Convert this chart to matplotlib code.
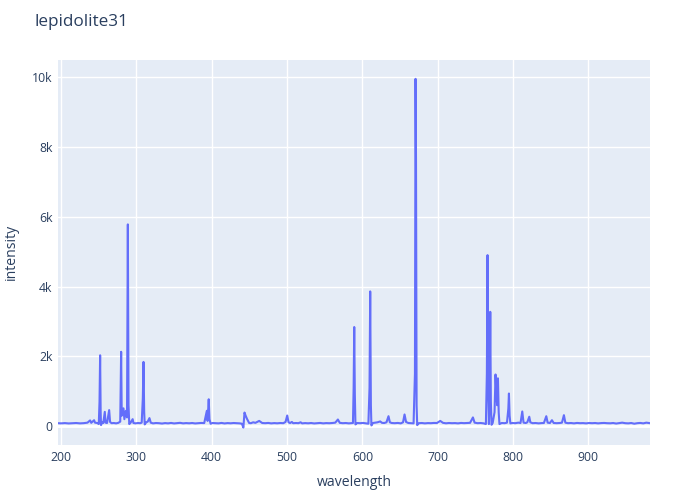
##    lepidolite31 spectrum: intensity vs wavelength (plotly-like look)

import matplotlib
matplotlib.use('Agg')
import matplotlib.pyplot as plt
from matplotlib.ticker import FuncFormatter, MultipleLocator

plt.rcParams['font.family'] = ['Open Sans', 'DejaVu Sans']

##    wavelength (nm) and intensity
wavelength = [
    196, 200, 205, 210, 215, 220, 225, 230, 235, 238.5, 240, 243.8, 245, 248,
    250, 251, 251.8, 252.5, 253, 254.5, 256, 258, 259, 261, 263.8, 265, 267,
    270, 273, 276, 278.5, 279.7, 280.5, 282.8, 284, 286, 287.5, 288.6, 289.5,
    290.5, 292, 295, 296, 299, 302, 305, 307, 308.5, 309.4, 310.3, 311, 313,
    315, 317.3, 319, 322, 326, 330, 334, 338, 342, 346, 350, 354, 358, 362,
    366, 370, 374, 378, 382, 386, 390, 393.5, 394.5, 396, 397, 398.5, 401,
    405, 409, 413, 417, 421, 425, 429, 433, 437, 440, 442, 443.5, 445, 447,
    449.7, 452, 455, 458, 461, 463, 465, 467, 471, 475, 479, 483, 487, 491,
    495, 498, 500.2, 502, 504, 506.4, 508, 512, 515, 518, 520, 524, 528, 532,
    536, 540, 544, 548, 552, 556, 560, 564, 567.5, 570, 574, 578, 582, 585,
    587.5, 588.4, 589.2, 590, 590.8, 593, 597, 601, 605, 608, 609.5, 610.4,
    611.3, 612, 614, 617, 620, 623.7, 626, 629, 632, 634.7, 636.5, 639, 643,
    647, 651, 654, 656, 658, 661, 664, 668, 669.8, 670.6, 671.2, 672, 672.8,
    675, 679, 683, 687, 691, 695, 699, 703.4, 707, 711, 715, 719, 723, 727,
    731, 735, 739, 743, 746.8, 749, 753, 757, 761, 764, 765.3, 766.2, 767,
    768, 769, 769.8, 770.6, 771.5, 773, 775.5, 776.8, 778, 779, 780, 781,
    782, 785, 789, 792, 793.8, 794.6, 795.5, 796.5, 799, 803, 807, 810,
    812.3, 814, 817, 819, 821.6, 823, 826, 830, 834, 838, 841, 844.2, 846,
    849, 851.7, 854, 858, 862, 865, 867.6, 869.5, 873, 877, 881, 885, 889,
    893, 897, 901, 905, 909, 913, 917, 921, 925, 929, 933, 937, 941, 945,
    949, 953, 957, 961, 965, 969, 973, 977, 980, 982]
intensity = [
    85, 80, 88, 78, 84, 90, 80, 86, 100, 165, 95, 170, 100, 90,
    60, 700, 2030, 400, 30, 120, 90, 410, 100, 90, 460, 120, 85,
    90, 80, 95, 130, 2130, 300, 510, 200, 440, 250, 5780, 600,
    60, 90, 200, 90, 80, 90, 85, 100, 800, 1840, 400, 50, 110,
    130, 230, 100, 80, 90, 85, 75, 88, 80, 92, 78, 85, 95, 80,
    88, 82, 90, 78, 86, 92, 88, 440, 150, 770, 200, 70, 90,
    85, 80, 92, 78, 88, 82, 90, 85, 80, 70, -40, 390, 300, 200,
    90, 85, 110, 95, 130, 150, 120, 90, 85, 92, 80, 88, 82, 90,
    85, 120, 305, 110, 90, 120, 85, 90, 85, 110, 80, 88, 82, 90,
    78, 86, 92, 80, 88, 84, 90, 100, 190, 95, 85, 90, 80, 85,
    90, 1100, 2840, 900, 50, 90, 85, 92, 80, 70, 1100, 3860,
    600, 20, 90, 100, 110, 135, 95, 90, 110, 285, 110, 90, 85,
    92, 80, 110, 335, 120, 90, 85, 80, 1500, 9950, 7700, 600, 30,
    85, 90, 80, 88, 85, 92, 90, 150, 95, 82, 90, 85, 88, 80,
    92, 86, 90, 95, 250, 100, 85, 90, 80, 60, 1500, 4900, 1200,
    60, 900, 3275, 700, 40, 90, 400, 1480, 900, 600, 1370, 400,
    60, 90, 85, 100, 500, 935, 300, 80, 90, 85, 100, 90,
    420, 100, 90, 110, 270, 110, 85, 90, 80, 88, 90, 285, 100,
    90, 170, 90, 85, 90, 100, 315, 100, 85, 90, 80, 92, 85,
    88, 80, 90, 85, 90, 80, 88, 92, 85, 82, 90, 75, 88, 100,
    85, 80, 90, 70, 85, 92, 80, 100, 90, 85]

xTicks = [200, 300, 400, 500, 600, 700, 800, 900]

#==============================================================================
fig = plt.figure(figsize=(7, 5), dpi=100)
ax = fig.add_axes([0.083, 0.11, 0.846, 0.77])
ax.set_facecolor('#e5ecf6')
ax.plot(wavelength, intensity, color='#636efa', lw=1.5, zorder=3)

ax.set_xlim(196, 982.3)
ax.set_ylim(-540, 10490)
ax.set_xticks(xTicks)
ax.yaxis.set_major_locator(MultipleLocator(2000))
ax.yaxis.set_major_formatter(FuncFormatter(lambda v, p: '0' if v == 0 else '%dk' % (v / 1000)))
ax.grid(True, color='white', lw=1, zorder=1)
ax.axhline(0, color='white', lw=2, zorder=2)
ax.set_axisbelow(True)
for s in ax.spines.values():
    s.set_visible(False)
ax.tick_params(length=0, labelsize=8.8, labelcolor='#2a3f5f', pad=4)

##    plotly sizes are px: 14px label, 17px title
fig.text(354/700, 1 - 483/500, 'wavelength', fontsize=10.1, color='#2a3f5f', ha='center', va='center')
fig.text(11/700, 1 - 252/500, 'intensity', fontsize=10.1, color='#2a3f5f', ha='center', va='center', rotation=90)
fig.text(35/700, 1 - 22/500, 'lepidolite31', fontsize=12.3, color='#2a3f5f', va='center')

fig.savefig('out.png')
